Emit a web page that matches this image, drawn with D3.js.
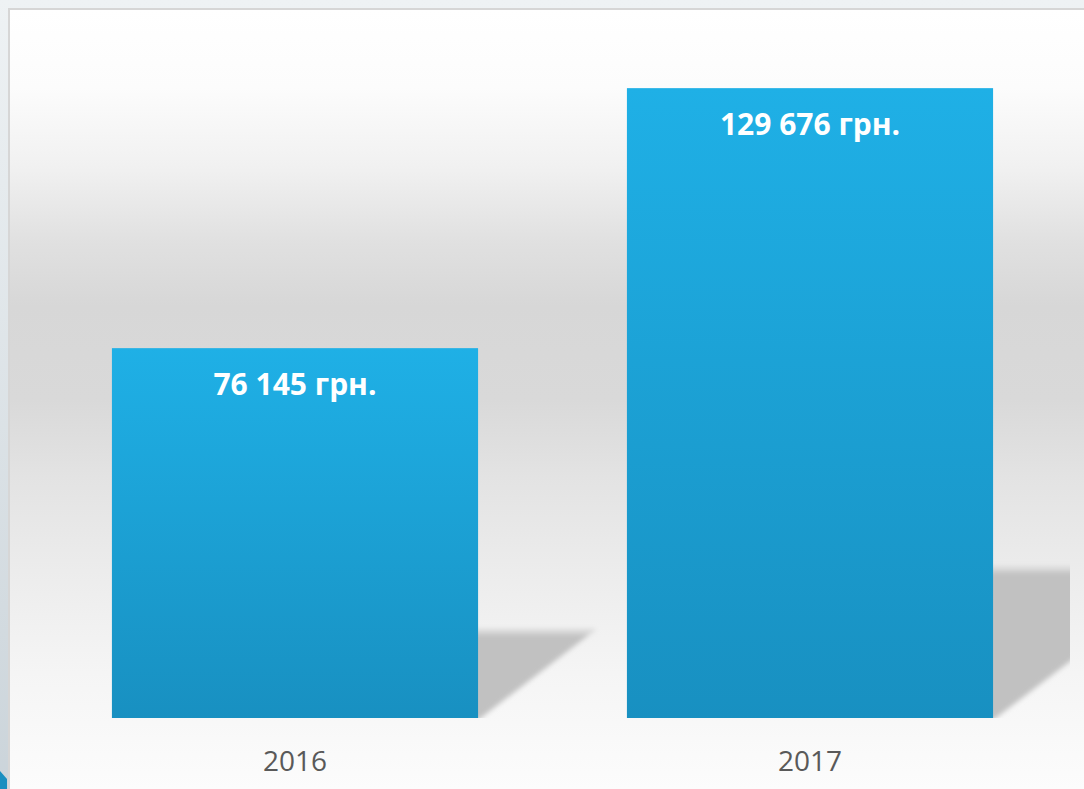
<!DOCTYPE html>
<html>
<head>
<meta charset="utf-8">
<script src="https://cdn.jsdelivr.net/npm/d3@7"></script>
<style>
  html, body { margin: 0; padding: 0; background: #eef2f4; }
  svg { display: block; }
</style>
</head>
<body>
<div id="chart"></div>
<script>
// data
const years = ['2016', '2017'];
const values = [76145, 129676];
const value_labels = ['76 145 грн.', '129 676 грн.'];

const width = 1084, height = 789;
const frame = {left: 8, top: 8};
const plot = {left: 37.5, right: 1067.5, top: 38, bottom: 718, clipRight: 1070};
const shadow_ratio = 0.24;     // shadow height relative to bar height
const shadow_spread = 1.33;    // horizontal reach of the shadow relative to its height

const svg = d3.select('#chart').append('svg')
  .attr('width', width)
  .attr('height', height);

const defs = svg.append('defs');

// left strip of the slide
const strip = defs.append('linearGradient').attr('id', 'strip')
  .attr('x1', 0).attr('y1', 0).attr('x2', 0).attr('y2', 1);
strip.append('stop').attr('offset', 0).attr('stop-color', '#eef2f4');
strip.append('stop').attr('offset', 1).attr('stop-color', '#cbd4da');

// background of the chart area
const bg = defs.append('linearGradient').attr('id', 'bg')
  .attr('x1', 0).attr('y1', 0).attr('x2', 0).attr('y2', 1);
[[0, '#ffffff'], [0.1, '#fcfcfc'], [0.2, '#f1f1f1'], [0.3, '#e0e0e0'], [0.38, '#d7d7d7'],
 [0.5, '#d9d9d9'], [0.6, '#e3e3e3'], [0.72, '#ececec'], [0.85, '#f5f5f5'], [1, '#fcfcfc']]
  .forEach(([o, c]) => bg.append('stop').attr('offset', o).attr('stop-color', c));

// bar fill
const barGrad = defs.append('linearGradient').attr('id', 'bar')
  .attr('x1', 0).attr('y1', 0).attr('x2', 0).attr('y2', 1);
barGrad.append('stop').attr('offset', 0).attr('stop-color', '#1fb0e6');
barGrad.append('stop').attr('offset', 1).attr('stop-color', '#1890c1');

defs.append('filter').attr('id', 'soft')
  .attr('x', '-20%').attr('y', '-20%').attr('width', '140%').attr('height', '140%')
  .append('feGaussianBlur').attr('stdDeviation', 2.5);

defs.append('clipPath').attr('id', 'plotclip')
  .append('rect')
  .attr('x', frame.left + 2).attr('y', frame.top + 2)
  .attr('width', plot.clipRight - frame.left - 2)
  .attr('height', plot.bottom - frame.top - 2);

svg.append('rect')
  .attr('width', width).attr('height', height)
  .attr('fill', 'url(#strip)');

svg.append('rect')
  .attr('x', frame.left).attr('y', frame.top)
  .attr('width', width - frame.left).attr('height', height - frame.top)
  .attr('fill', '#d6d6d6');

svg.append('rect')
  .attr('x', frame.left + 2).attr('y', frame.top + 2)
  .attr('width', width - frame.left - 2).attr('height', height - frame.top - 2)
  .attr('fill', 'url(#bg)');

// small blue corner at bottom left
svg.append('path')
  .attr('d', 'M0,771 L7,779 L7,789 L0,789 Z')
  .attr('fill', '#1a8fc0');

// scales
const x = d3.scaleBand()
  .domain(years)
  .range([plot.left, plot.right])
  .paddingInner(0.289)
  .paddingOuter(0.1445);

const y = d3.scaleLinear()
  .domain([0, 140000])
  .range([plot.bottom, plot.top]);

const data = years.map((yr, i) => ({year: yr, value: values[i], label: value_labels[i]}));

// shadows behind the bars
const shadows = svg.append('g')
  .attr('clip-path', 'url(#plotclip)')
  .append('g')
  .attr('filter', 'url(#soft)');

data.forEach(d => {
  const x1 = x(d.year) + x.bandwidth();
  const base = y(0);
  const sh = (base - y(d.value)) * shadow_ratio;
  const top = base - sh;
  const sw = sh * shadow_spread;
  shadows.append('path')
    .attr('d', `M${x1 - 4},${top} L${x1 + sw},${top} L${x1},${base + 2} L${x1 - 4},${base + 2} Z`)
    .attr('fill', '#c1c1c1');
  shadows.append('path')
    .attr('d', `M${x1 - 4},${top} L${x1 + sw},${top} L${x1 + sw - 7},${top + 5} L${x1 - 4},${top + 5} Z`)
    .attr('fill', '#d9d9d9');
});

// bars
svg.append('g')
  .selectAll('rect')
  .data(data)
  .join('rect')
  .attr('x', d => x(d.year))
  .attr('y', d => y(d.value))
  .attr('width', x.bandwidth())
  .attr('height', d => y(0) - y(d.value))
  .attr('fill', 'url(#bar)');

// value labels inside bars
svg.append('g')
  .selectAll('text')
  .data(data)
  .join('text')
  .attr('x', d => x(d.year) + x.bandwidth() / 2)
  .attr('y', d => y(d.value) + 47)
  .attr('text-anchor', 'middle')
  .attr('font-family', '"Open Sans", sans-serif')
  .attr('font-weight', 'bold')
  .attr('font-size', 30)
  .attr('fill', '#ffffff')
  .text(d => d.label);

// category axis
const xAxis = svg.append('g')
  .attr('transform', `translate(0,${plot.bottom})`)
  .call(d3.axisBottom(x).tickSize(0).tickPadding(53));
xAxis.select('.domain').remove();
xAxis.selectAll('text')
  .attr('font-family', '"Open Sans", sans-serif')
  .attr('font-size', 28)
  .attr('fill', '#595959')
  .attr('dy', 0);
</script>
</body>
</html>
